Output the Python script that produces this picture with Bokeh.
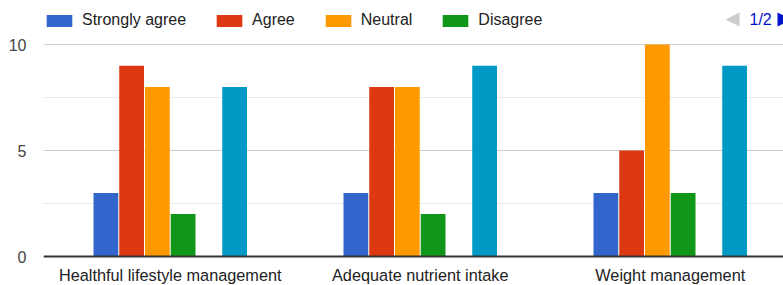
from bokeh.plotting import figure
from bokeh.models import Range1d, FixedTicker, Legend, LegendItem, PolyAnnotation, Label, ColumnDataSource, Span
from bokeh.core.properties import value
from bokeh.embed import file_html
from bokeh.resources import INLINE

# ---- data ----
categories = ["Healthful lifestyle management", "Adequate nutrient intake", "Weight management"]
series_names = ["Strongly agree", "Agree", "Neutral", "Disagree", "Strongly disagree", "Series 6"]
strongly_agree = [3, 3, 3]
agree = [9, 8, 5]
neutral = [8, 8, 10]
disagree = [2, 2, 3]
strongly_disagree = [0, 0, 0]   # legend page 2 (not visible)
series_6 = [8, 9, 9]            # legend page 2 (not visible)
colors = ["#3366cc", "#dc3912", "#ff9900", "#109618", "#990099", "#0099c6"]
y_ticks = [0, 5, 10]
y_minor = [2.5, 7.5]
legend_shown = 4

series_values = [strongly_agree, agree, neutral, disagree, strongly_disagree, series_6]

FONT = "Liberation Sans"
n_series = len(series_values)
group = 0.618
slot = group / n_series
gap = 1.0 / 250.0

# The frame fills the whole canvas height (legend and category labels are drawn
# inside it so nothing is clipped); value 10 sits at y=44px and 0 at y=256px.
px_per_unit = 21.2
p = figure(width=783, height=285,
           x_range=Range1d(-0.507, 2.453),
           y_range=Range1d(-29 / px_per_unit, 256 / px_per_unit),
           output_backend="svg", toolbar_location=None, x_axis_location=None,
           min_border_left=43, min_border_right=0,
           min_border_top=0, min_border_bottom=0)
p.outline_line_color = None
p.background_fill_color = "white"

renderers = []
for j, (vals, col) in enumerate(zip(series_values, colors)):
    xs = [i + (j - (n_series - 1) / 2) * slot for i in range(len(categories))]
    src = ColumnDataSource(dict(x=xs, top=vals, cat=categories))
    r = p.vbar(x="x", top="top", bottom=0, width=slot - gap, source=src,
               fill_color=col, line_color=None)
    renderers.append(r)

# y axis and grid
p.yaxis.ticker = FixedTicker(ticks=y_ticks, minor_ticks=y_minor)
p.ygrid.ticker = FixedTicker(ticks=y_ticks, minor_ticks=y_minor)
p.ygrid.grid_line_color = "#cccccc"
p.ygrid.minor_grid_line_color = "#ebebeb"
p.xgrid.grid_line_color = None
p.yaxis.axis_line_color = None
p.yaxis.major_tick_line_color = None
p.yaxis.minor_tick_line_color = None
p.yaxis.major_tick_out = 0
p.yaxis.minor_tick_out = 0
p.yaxis.major_label_text_font = FONT
p.yaxis.major_label_text_font_size = "16px"
p.yaxis.major_label_text_color = "#444444"
p.yaxis.major_label_standoff = 17

# baseline
p.add_layout(Span(location=0, dimension="width", line_color="#333333", line_width=2))

# category labels under the baseline
cat_src = ColumnDataSource(dict(x=list(range(len(categories))), y=[0] * len(categories), text=categories))
p.text(x="x", y="y", text="text", source=cat_src, y_offset=18,
       text_align="center", text_baseline="alphabetic",
       text_font=value(FONT), text_font_size="16.3px", text_color="#222222")

# legend (page 1 of 2)
items = [LegendItem(label=series_names[k], renderers=[renderers[k]]) for k in range(legend_shown)]
legend = Legend(items=items, orientation="horizontal", location=(0, 256),
                glyph_width=32, glyph_height=15, label_standoff=7, spacing=27,
                padding=0, margin=0, border_line_color=None, background_fill_alpha=0,
                label_text_font=FONT, label_text_font_size="16px",
                label_text_color="#222222")
p.add_layout(legend, "center")

# legend paging indicator
left_tri = PolyAnnotation(xs=[696, 696, 682], ys=[259, 273, 266],
                          xs_units="screen", ys_units="screen",
                          fill_color="#cccccc", fill_alpha=1, line_color=None)
right_tri = PolyAnnotation(xs=[734, 734, 748], ys=[259, 273, 266],
                           xs_units="screen", ys_units="screen",
                           fill_color="#0011cc", fill_alpha=1, line_color=None)
p.add_layout(left_tri)
p.add_layout(right_tri)
page_lbl = Label(x=706, y=266, x_units="screen", y_units="screen", text="1/2",
                 text_font=FONT, text_font_size="16px", text_color="#0011cc",
                 text_baseline="middle")
p.add_layout(page_lbl)

open("out.html", "w").write(file_html(p, INLINE))
